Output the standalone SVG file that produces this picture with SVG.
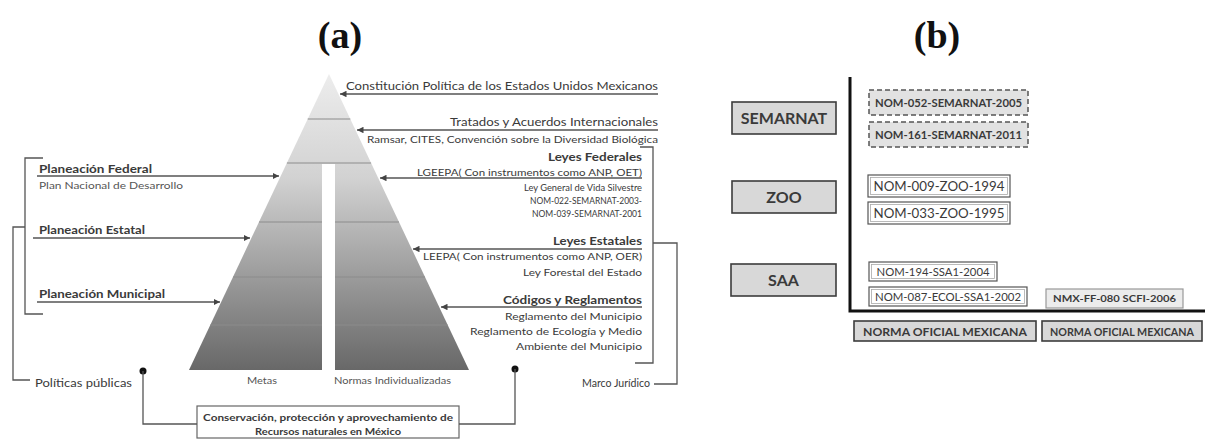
<svg xmlns="http://www.w3.org/2000/svg" width="1205" height="439" viewBox="0 0 1205 439">
<style>
.t{font-family:"Lato","Liberation Sans",sans-serif;fill:#3a3a3a}
.r{font-size:11px}
.s{font-size:10px}
.b{font-weight:bold}
.g{fill:#555}
.ttl{font-family:"Liberation Serif",serif;font-weight:bold;font-size:38px;fill:#111}
.ln{stroke:#555;stroke-width:1.3;fill:none}
.band{stroke:#8c8c8c;stroke-width:1.2}
.box{fill:#d8d8d8;stroke:#3c3c3c;stroke-width:1.6}
.dash{fill:#e2e2e2;stroke:#555;stroke-width:1.5;stroke-dasharray:5 3}
.wb{fill:#fff;stroke:#555;stroke-width:1.2}
.wi{fill:none;stroke:#aaa;stroke-width:0.8}
.nmx{fill:#ececec;stroke:#999;stroke-width:1.2}
</style>
<defs>
<linearGradient id="pg" gradientUnits="userSpaceOnUse" x1="0" y1="74" x2="0" y2="370">
<stop offset="0" stop-color="#ededed"/>
<stop offset="0.35" stop-color="#d2d2d2"/>
<stop offset="1" stop-color="#686868"/>
</linearGradient>
<marker id="arr" viewBox="0 0 10 10" refX="10" refY="5" markerWidth="5" markerHeight="5" orient="auto" markerUnits="strokeWidth">
<path d="M0,0 L10,5 L0,10 z" fill="#444"/>
</marker>
</defs>

<text class="ttl" x="340" y="48" text-anchor="middle">(a)</text>
<text class="ttl" x="937" y="48" text-anchor="middle">(b)</text>

<g id="pyramid">
<polygon points="329,74 469,370 189,370" fill="url(#pg)"/>
<line class="band" x1="307.7" y1="119" x2="350.3" y2="119"/>
<line class="band" x1="286.9" y1="163" x2="371.1" y2="163"/>
<line class="band" x1="259" y1="222" x2="399" y2="222"/>
<line class="band" x1="233" y1="277" x2="425" y2="277"/>
<line class="band" x1="210.3" y1="325" x2="447.7" y2="325"/>
<rect x="322" y="164" width="13" height="207" fill="#fff"/>
</g>

<g id="left-labels">
<text class="t r b" x="39" y="173" textLength="113" lengthAdjust="spacingAndGlyphs">Planeación Federal</text>
<text class="t s g" x="39" y="189" textLength="144" lengthAdjust="spacingAndGlyphs">Plan Nacional de Desarrollo</text>
<text class="t r b" x="39" y="234" textLength="106" lengthAdjust="spacingAndGlyphs">Planeación Estatal</text>
<text class="t r b" x="39" y="298" textLength="126" lengthAdjust="spacingAndGlyphs">Planeación Municipal</text>
<text class="t r" x="35" y="387" textLength="97" lengthAdjust="spacingAndGlyphs">Políticas públicas</text>
</g>

<g id="right-labels">
<text class="t r" x="658" y="90" text-anchor="end" textLength="312" lengthAdjust="spacingAndGlyphs">Constitución Política de los Estados Unidos Mexicanos</text>
<text class="t r" x="658" y="126" text-anchor="end" textLength="208" lengthAdjust="spacingAndGlyphs">Tratados y Acuerdos Internacionales</text>
<text class="t s" x="658" y="143" text-anchor="end" textLength="291" lengthAdjust="spacingAndGlyphs">Ramsar, CITES, Convención sobre la Diversidad Biológica</text>
<text class="t r b" x="642" y="161" text-anchor="end" textLength="94" lengthAdjust="spacingAndGlyphs">Leyes Federales</text>
<text class="t s" x="642" y="176" text-anchor="end" textLength="225" lengthAdjust="spacingAndGlyphs">LGEEPA( Con instrumentos como ANP, OET)</text>
<text class="t" font-size="9.5" x="642" y="191" text-anchor="end" textLength="118" lengthAdjust="spacingAndGlyphs">Ley General de Vida Silvestre</text>
<text class="t" font-size="9.5" x="642" y="204" text-anchor="end" textLength="112" lengthAdjust="spacingAndGlyphs">NOM-022-SEMARNAT-2003-</text>
<text class="t" font-size="9.5" x="642" y="217" text-anchor="end" textLength="110" lengthAdjust="spacingAndGlyphs">NOM-039-SEMARNAT-2001</text>
<text class="t r b" x="642" y="245" text-anchor="end" textLength="89" lengthAdjust="spacingAndGlyphs">Leyes Estatales</text>
<text class="t s" x="642" y="260" text-anchor="end" textLength="219" lengthAdjust="spacingAndGlyphs">LEEPA( Con instrumentos como ANP, OER)</text>
<text class="t s" x="642" y="276" text-anchor="end" textLength="119" lengthAdjust="spacingAndGlyphs">Ley Forestal del Estado</text>
<text class="t r b" x="642" y="304" text-anchor="end" textLength="139" lengthAdjust="spacingAndGlyphs">Códigos y Reglamentos</text>
<text class="t s" x="642" y="320" text-anchor="end" textLength="137" lengthAdjust="spacingAndGlyphs">Reglamento del Municipio</text>
<text class="t s" x="642" y="335" text-anchor="end" textLength="172" lengthAdjust="spacingAndGlyphs">Reglamento de Ecología y Medio</text>
<text class="t s" x="642" y="350" text-anchor="end" textLength="126" lengthAdjust="spacingAndGlyphs">Ambiente del Municipio</text>
<text class="t r" x="650" y="387" text-anchor="end" textLength="68" lengthAdjust="spacingAndGlyphs">Marco Jurídico</text>
</g>

<g id="bottom-labels">
<text class="t s g" x="247" y="384" textLength="30" lengthAdjust="spacingAndGlyphs">Metas</text>
<text class="t s g" x="334" y="384" textLength="117" lengthAdjust="spacingAndGlyphs">Normas Individualizadas</text>
</g>

<g id="conservacion-box">
<rect x="197" y="406" width="262" height="32" fill="#fff" stroke="#666" stroke-width="1.2"/>
<text class="t s b" x="328" y="421" text-anchor="middle" textLength="250" lengthAdjust="spacingAndGlyphs">Conservación, protección y aprovechamiento de</text>
<text class="t s b" x="328" y="435" text-anchor="middle" textLength="146" lengthAdjust="spacingAndGlyphs">Recursos naturales en México</text>
</g>

<g id="connectors">
<line class="ln" x1="37" y1="176" x2="279" y2="176" marker-end="url(#arr)"/>
<line class="ln" x1="33" y1="238" x2="250" y2="238" marker-end="url(#arr)"/>
<line class="ln" x1="37" y1="302" x2="220" y2="302" marker-end="url(#arr)"/>
<polyline class="ln" points="43,158 25,158 25,314 43,314"/>
<polyline class="ln" points="25,227 13,227 13,380 30,380"/>
<line class="ln" x1="658" y1="94" x2="340" y2="94" marker-end="url(#arr)"/>
<line class="ln" x1="658" y1="130" x2="357" y2="130" marker-end="url(#arr)"/>
<line class="ln" x1="642" y1="178" x2="380" y2="178" marker-end="url(#arr)"/>
<line class="ln" x1="642" y1="249" x2="413" y2="249" marker-end="url(#arr)"/>
<line class="ln" x1="642" y1="307" x2="441" y2="307" marker-end="url(#arr)"/>
<polyline class="ln" points="640,147 653,147 653,363 635,363"/>
<polyline class="ln" points="653,243 677,243 677,384 654,384"/>
<circle cx="143" cy="371" r="3.5" fill="#111"/>
<polyline class="ln" points="143,371 143,424 197,424"/>
<circle cx="515" cy="369" r="3.5" fill="#111"/>
<polyline class="ln" points="515,369 515,424 459,424"/>
<polyline points="850,77 850,311 1205,311" fill="none" stroke="#111" stroke-width="3"/>
</g>

<g id="semarnat">
<rect class="box" x="732" y="102" width="104" height="32"/>
<text class="t b" font-size="16" x="784" y="124" text-anchor="middle" fill="#333">SEMARNAT</text>
</g>
<g id="zoo">
<rect class="box" x="732" y="181" width="104" height="32"/>
<text class="t b" font-size="16" x="784" y="203" text-anchor="middle">ZOO</text>
</g>
<g id="saa">
<rect class="box" x="731" y="264" width="105" height="32"/>
<text class="t b" font-size="16" x="783.5" y="286" text-anchor="middle">SAA</text>
</g>

<g id="nom-052">
<rect class="dash" x="869" y="90" width="159" height="25"/>
<text class="t b" font-size="11" x="948.5" y="106.5" text-anchor="middle" textLength="147" lengthAdjust="spacingAndGlyphs">NOM-052-SEMARNAT-2005</text>
</g>
<g id="nom-161">
<rect class="dash" x="869" y="122" width="159" height="25"/>
<text class="t b" font-size="11" x="948.5" y="138.5" text-anchor="middle" textLength="147" lengthAdjust="spacingAndGlyphs">NOM-161-SEMARNAT-2011</text>
</g>
<g id="nom-009">
<rect class="wb" x="868" y="175" width="142" height="22"/>
<rect class="wi" x="870.5" y="177.5" width="137" height="17"/>
<text class="t" font-size="13.5" x="939" y="191" text-anchor="middle" textLength="131" lengthAdjust="spacingAndGlyphs">NOM-009-ZOO-1994</text>
</g>
<g id="nom-033">
<rect class="wb" x="868" y="202" width="142" height="22"/>
<rect class="wi" x="870.5" y="204.5" width="137" height="17"/>
<text class="t" font-size="13.5" x="939" y="218" text-anchor="middle" textLength="131" lengthAdjust="spacingAndGlyphs">NOM-033-ZOO-1995</text>
</g>
<g id="nom-194">
<rect class="wb" x="869" y="262" width="128" height="19"/>
<rect class="wi" x="871.5" y="264.5" width="123" height="14"/>
<text class="t" font-size="11" x="933" y="275.5" text-anchor="middle" textLength="113" lengthAdjust="spacingAndGlyphs">NOM-194-SSA1-2004</text>
</g>
<g id="nom-087">
<rect class="wb" x="869" y="287" width="158" height="19"/>
<rect class="wi" x="871.5" y="289.5" width="153" height="14"/>
<text class="t" font-size="11" x="948" y="300.5" text-anchor="middle" textLength="146" lengthAdjust="spacingAndGlyphs">NOM-087-ECOL-SSA1-2002</text>
</g>
<g id="nmx">
<rect class="nmx" x="1046" y="289" width="137" height="19"/>
<text class="t b" font-size="10" x="1114.5" y="302" text-anchor="middle" textLength="123" lengthAdjust="spacingAndGlyphs">NMX-FF-080 SCFI-2006</text>
</g>
<g id="norma-1">
<rect class="box" x="854" y="321" width="182" height="20"/>
<text class="t b" font-size="12" x="945" y="335.5" text-anchor="middle" textLength="164" lengthAdjust="spacingAndGlyphs">NORMA OFICIAL MEXICANA</text>
</g>
<g id="norma-2">
<rect class="box" x="1042" y="321" width="160" height="20"/>
<text class="t b" font-size="11.5" x="1122" y="335.5" text-anchor="middle" textLength="144" lengthAdjust="spacingAndGlyphs">NORMA OFICIAL MEXICANA</text>
</g>
</svg>
